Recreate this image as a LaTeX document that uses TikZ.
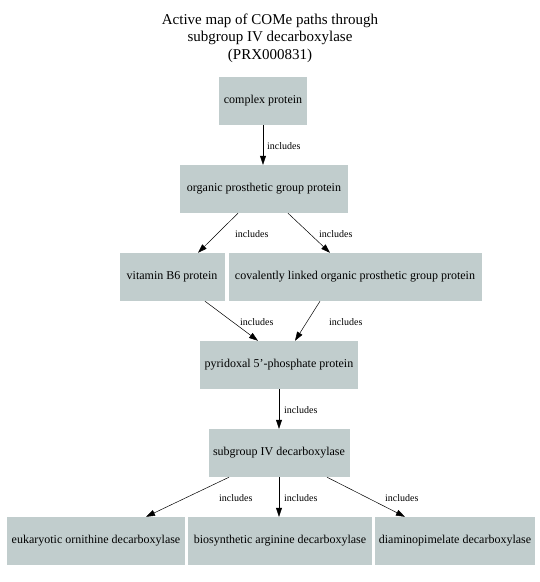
\documentclass[tikz,border=0pt]{standalone}
\usepackage{fontspec}
\setmainfont{Liberation Serif}
\usetikzlibrary{arrows.meta}
\definecolor{boxfill}{HTML}{C1CDCD}

\begin{document}
\begin{tikzpicture}[x=1pt, y=-1pt,
  box/.style={fill=boxfill, minimum height=48pt, inner sep=0pt, font=\fontsize{12}{14}\selectfont},
  link/.style={-{Triangle[length=9pt,width=6pt]}, line width=0.5pt},
  lbl/.style={anchor=west, inner sep=0pt, font=\fontsize{10}{12}\selectfont}]
  \useasboundingbox (0,0) rectangle (540,582);

  % title
  \node[align=center, font=\fontsize{15}{17.5}\selectfont] (title) at (270,38)
    {Active map of COMe paths through\\subgroup IV decarboxylase\\(PRX000831)};

  % boxes
  \node[box, minimum width=88pt]  (cplx) at (263,101) {complex protein};
  \node[box, minimum width=168pt] (orgp) at (264,189) {organic prosthetic group protein};
  \node[box, minimum width=105pt] (vitb) at (172,277) {vitamin B6 protein};
  \node[box, minimum width=253pt] (covl) at (355,277) {covalently linked organic prosthetic group protein};
  \node[box, minimum width=158pt] (pyrx) at (279,365) {pyridoxal 5'-phosphate protein};
  \node[box, minimum width=141pt] (sub4) at (279,453) {subgroup IV decarboxylase};
  \node[box, minimum width=178pt] (eodc) at (96,541)  {eukaryotic ornithine decarboxylase};
  \node[box, minimum width=184pt] (badc) at (280,541) {biosynthetic arginine decarboxylase};
  \node[box, minimum width=160pt] (dapd) at (455,541) {diaminopimelate decarboxylase};

  % links
  \draw[link] (cplx.south) -- ([xshift=-1pt]orgp.north);
  \draw[link] ([xshift=-26pt]orgp.south) -- ([xshift=26pt]vitb.north);
  \draw[link] ([xshift=24pt]orgp.south) -- ([xshift=-25pt]covl.north);
  \draw[link] ([xshift=33pt]vitb.south) -- ([xshift=-21pt]pyrx.north);
  \draw[link] ([xshift=-35pt]covl.south) -- ([xshift=16pt]pyrx.north);
  \draw[link] (pyrx.south) -- (sub4.south |- sub4.north);
  \draw[link] ([xshift=-50pt]sub4.south) -- ([xshift=50pt]eodc.north);
  \draw[link] (sub4.south) -- ([xshift=-1pt]badc.north);
  \draw[link] ([xshift=48pt]sub4.south) -- ([xshift=-50pt]dapd.north);

  % link labels
  \node[lbl] (l1) at (267,146) {includes};
  \node[lbl] (l2) at (235,234) {includes};
  \node[lbl] (l3) at (319,234) {includes};
  \node[lbl] (l4) at (240,322) {includes};
  \node[lbl] (l5) at (329,322) {includes};
  \node[lbl] (l6) at (284,410) {includes};
  \node[lbl] (l7) at (219,498) {includes};
  \node[lbl] (l8) at (284,498) {includes};
  \node[lbl] (l9) at (385,498) {includes};
\end{tikzpicture}
\end{document}
